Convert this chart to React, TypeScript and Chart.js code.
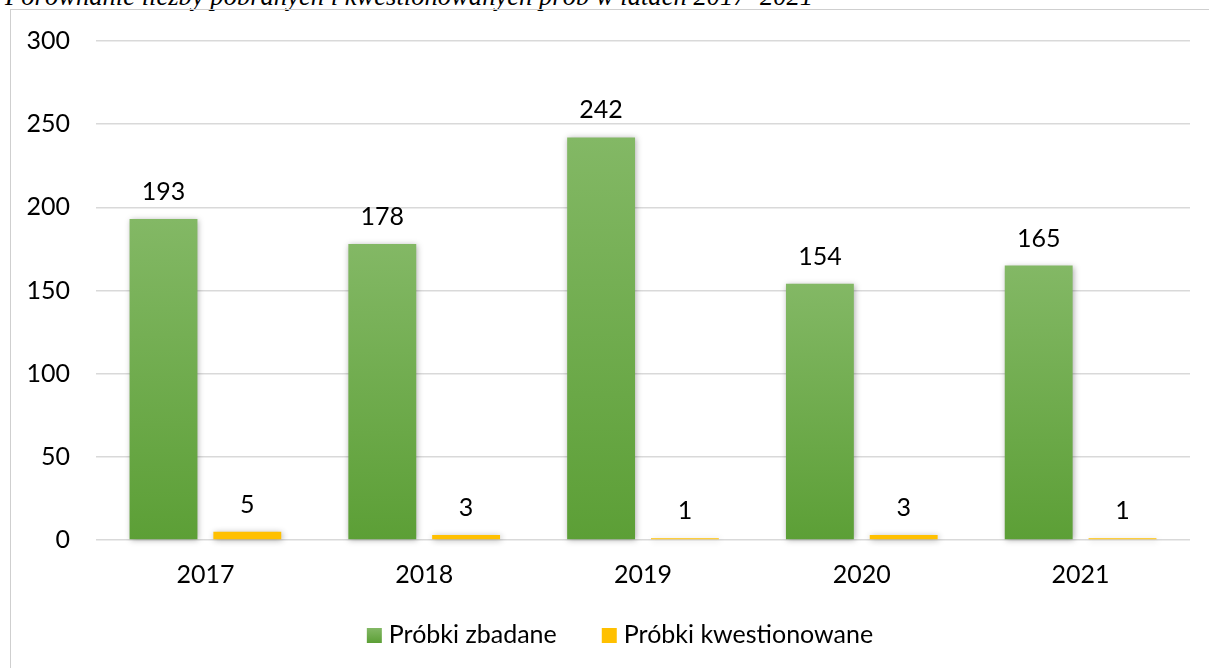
import React, { useEffect, useRef } from "react";
import { Chart, registerables } from "chart.js";

Chart.register(...registerables);

// ---- data ----
const years = ["2017", "2018", "2019", "2020", "2021"];
const examined = [193, 178, 242, 154, 165];
const questioned = [5, 3, 1, 3, 1];
const seriesNames = ["Próbki zbadane", "Próbki kwestionowane"];
const yMax = 300;
const yStep = 50;
const titleText = "Porównanie liczby pobranych i kwestionowanych prób w latach 2017–2021";

// ---- styles ----
const FONT = "Lato, 'Noto Sans', sans-serif";
const FS = 25;
const GREEN_TOP = "#83b865";
const GREEN_BOTTOM = "#5c9f36";
const YELLOW = "#ffc000";
const GRID = "#d9d9d9";

function greenFill(ctx: any) {
  const chart = ctx.chart;
  if (!chart.chartArea || ctx.type !== "data" || !chart.scales.y) return "#70ad47";
  const ys = chart.scales.y;
  const top = ys.getPixelForValue(ctx.raw);
  const base = ys.getPixelForValue(0);
  if (!isFinite(top) || !isFinite(base) || top === base) return "#70ad47";
  const g = chart.ctx.createLinearGradient(0, top, 0, base);
  g.addColorStop(0, GREEN_TOP);
  g.addColorStop(1, GREEN_BOTTOM);
  return g;
}

const shadowPlugin = {
  id: "barShadow",
  beforeDatasetsDraw(chart: any) {
    const c = chart.ctx;
    c.save();
    c.shadowColor = "rgba(0,0,0,0.32)";
    c.shadowBlur = 6;
    c.shadowOffsetX = 1;
    c.shadowOffsetY = 1;
  },
  afterDatasetsDraw(chart: any) {
    chart.ctx.restore();
  },
};

const labelPlugin = {
  id: "valueLabels",
  afterDraw(chart: any) {
    const c = chart.ctx;
    c.save();
    c.font = `${FS}px ${FONT}`;
    c.fillStyle = "#000";
    c.textAlign = "center";
    c.textBaseline = "alphabetic";
    chart.data.datasets.forEach((ds: any, i: number) => {
      const meta = chart.getDatasetMeta(i);
      meta.data.forEach((el: any, j: number) => {
        c.fillText(String(ds.data[j]), el.x, el.y - 19);
      });
    });
    c.restore();
  },
};

const LEGEND_CX = 620;
const LEGEND_BASELINE = 643;
const legendPlugin = {
  id: "customLegend",
  afterDraw(chart: any) {
    const c = chart.ctx;
    c.save();
    c.font = `${FS}px ${FONT}`;
    const box = 15;
    const gapText = 7;
    const gapItem = 45;
    const items = chart.data.datasets.map((ds: any) => ({ text: ds.label, color: ds.legendColor }));
    const widths = items.map((it: any) => box + gapText + c.measureText(it.text).width);
    const total = widths.reduce((a: number, b: number) => a + b, 0) + gapItem * (items.length - 1);
    let x = LEGEND_CX - total / 2;
    items.forEach((it: any, i: number) => {
      if (it.color === "green") {
        const g = c.createLinearGradient(0, LEGEND_BASELINE - box, 0, LEGEND_BASELINE);
        g.addColorStop(0, GREEN_TOP);
        g.addColorStop(1, GREEN_BOTTOM);
        c.fillStyle = g;
      } else {
        c.fillStyle = it.color;
      }
      c.fillRect(x, LEGEND_BASELINE - box, box, box);
      c.fillStyle = "#000";
      c.textAlign = "left";
      c.textBaseline = "alphabetic";
      c.fillText(it.text, x + box + gapText, LEGEND_BASELINE);
      x += widths[i] + gapItem;
    });
    c.restore();
  },
};

function BarChart() {
  const ref = useRef<HTMLCanvasElement | null>(null);
  useEffect(() => {
    if (!ref.current) return;
    const chart = new Chart(ref.current, {
      type: "bar",
      data: {
        labels: years,
        datasets: [
          {
            label: seriesNames[0],
            data: examined,
            backgroundColor: greenFill as any,
            borderWidth: 0,
            categoryPercentage: 0.766,
            barPercentage: 0.81,
            clip: false as any,
            legendColor: "green",
          } as any,
          {
            label: seriesNames[1],
            data: questioned,
            backgroundColor: YELLOW,
            borderWidth: 0,
            categoryPercentage: 0.766,
            barPercentage: 0.81,
            clip: false as any,
            legendColor: YELLOW,
          } as any,
        ],
      },
      options: {
        responsive: false,
        animation: false,
        devicePixelRatio: 1,
        layout: { padding: { top: 40, right: 19, bottom: 0, left: 0 } },
        plugins: {
          legend: { display: false },
          title: { display: false },
          tooltip: { enabled: false },
        },
        scales: {
          x: {
            grid: { display: false, drawTicks: false },
            border: { display: false },
            ticks: {
              font: { family: FONT, size: FS },
              color: "#000",
              padding: 20,
              maxRotation: 0,
            },
            afterFit: (s: any) => {
              s.height = 128;
            },
          },
          y: {
            min: 0,
            max: yMax,
            grid: { color: GRID, lineWidth: 1.5, drawTicks: false },
            border: { display: false },
            ticks: {
              stepSize: yStep,
              font: { family: FONT, size: FS },
              color: "#000",
              padding: 26,
            },
            afterFit: (s: any) => {
              s.width = 96;
            },
          },
        },
      },
      plugins: [shadowPlugin, labelPlugin, legendPlugin],
    });
    return () => chart.destroy();
  }, []);
  return <canvas ref={ref} width={1209} height={668} style={{ position: "absolute", left: 0, top: 0 }} />;
}

export default function App() {
  return (
    <div
      style={{
        position: "fixed",
        left: 0,
        top: 0,
        width: 1209,
        height: 668,
        overflow: "hidden",
        background: "#fff",
      }}
    >
      <div
        style={{
          position: "absolute",
          left: 5,
          top: -17.3,
          fontFamily: "'Liberation Serif', 'Times New Roman', serif",
          fontStyle: "italic",
          fontSize: 26.6,
          lineHeight: 1,
          whiteSpace: "nowrap",
          color: "#000",
        }}
      >
        {titleText}
      </div>
      <div
        style={{
          position: "absolute",
          left: 10,
          top: 9,
          width: 1400,
          height: 900,
          border: "1px solid #cfcfcf",
        }}
      />
      <BarChart />
    </div>
  );
}
